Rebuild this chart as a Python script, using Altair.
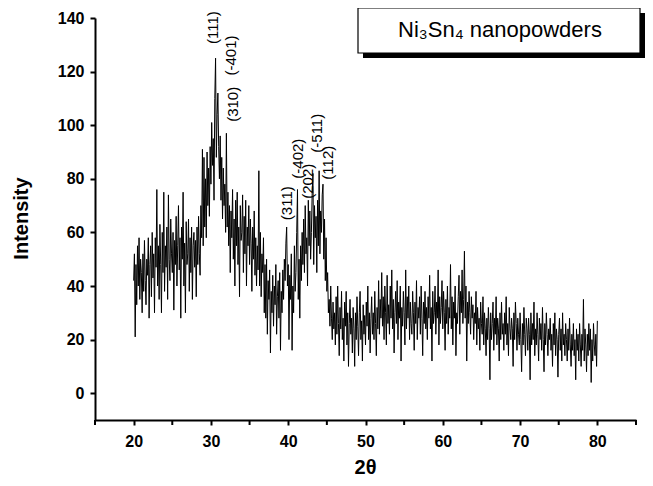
import altair as alt
import pandas as pd

# Intensity, one value every 0.1 deg of 2-theta, from 20.0 to 80.0
intensity = [
    42, 52, 21, 48, 33, 55, 40, 58, 35, 50,
    45, 30, 52, 38, 57, 42, 33, 50, 44, 58,
    28, 48, 55, 36, 60, 43, 52, 30, 58, 47,
    76, 40, 55, 35, 63, 48, 30, 60, 45, 75,
    38, 55, 47, 62, 35, 74, 50, 42, 65, 52,
    45, 60, 31, 57, 48, 66, 40, 55, 70, 46,
    58, 28, 62, 50, 75, 40, 56, 30, 64, 48,
    52, 65, 38, 58, 45, 62, 35, 55, 60, 47,
    57, 36, 62, 48, 66, 52, 44, 70, 58, 91,
    55, 88, 62, 80, 58, 90, 70, 84, 66, 92,
    78, 101, 85, 95, 72, 110, 125, 88, 104, 112,
    92, 80, 96, 72, 88, 65, 84, 70, 78, 60,
    97, 62, 75, 55, 70, 45, 68, 58, 76, 50,
    65, 40, 72, 55, 75, 48, 62, 36, 70, 57,
    60, 74, 45, 66, 52, 72, 40, 62, 55, 70,
    48, 65, 56, 38, 62, 50, 68, 44, 58, 40,
    55, 46, 83, 40, 60, 36, 52, 45, 58, 30,
    48, 28, 50, 22, 42, 35, 46, 15, 38, 30,
    44, 25, 40, 33, 48, 22, 36, 42, 28, 45,
    16, 38, 30, 46, 35, 50, 42, 56, 62, 40,
    48, 20, 44, 35, 52, 16, 40, 30, 55, 38,
    45, 60, 76, 35, 50, 28, 55, 42, 60, 48,
    65, 45, 70, 52, 58, 40, 72, 55, 68, 50,
    60, 75, 82, 48, 70, 58, 66, 45, 72, 55,
    83, 52, 68, 60, 74, 78, 50, 65, 42, 58,
    38, 45, 30, 35, 25, 40, 28, 20, 34, 24,
    30, 18, 36, 22, 40, 26, 14, 32, 24, 38,
    20, 28, 12, 34, 25, 38, 18, 30, 10, 26,
    35, 22, 28, 15, 32, 24, 10, 30, 20, 36,
    25, 14, 30, 38, 20, 27, 12, 33, 22, 29,
    18, 34, 25, 40, 20, 30, 15, 28, 36, 22,
    30, 20, 38, 26, 14, 32, 24, 42, 22, 35,
    28, 45, 25, 36, 20, 40, 30, 18, 44, 26,
    33, 22, 40, 28, 46, 24, 35, 15, 30, 38,
    26, 42, 20, 34, 28, 40, 12, 32, 25, 38,
    30, 18, 46, 24, 36, 28, 40, 20, 34, 26,
    22, 38, 30, 16, 34, 26, 42, 20, 32, 28,
    36, 22, 40, 28, 14, 34, 26, 38, 24, 32,
    20, 36, 28, 44, 24, 32, 12, 38, 26, 30,
    40, 22, 34, 28, 46, 18, 36, 26, 32, 42,
    24, 38, 30, 16, 35, 26, 40, 22, 32, 28,
    48, 24, 36, 18, 34, 28, 40, 14, 30, 26,
    36, 44, 22, 38, 30, 46, 26, 35, 53, 28,
    40, 12, 34, 26, 38, 30, 22, 36, 28, 33,
    20, 30, 26, 38, 18, 32, 24, 28, 16, 34,
    26, 22, 36, 18, 30, 24, 14, 28, 20, 32,
    24, 5, 30, 20, 26, 34, 16, 28, 22, 36,
    18, 28, 24, 12, 30, 20, 34, 22, 26, 16,
    30, 22, 36, 18, 26, 14, 32, 24, 20, 28,
    24, 10, 30, 20, 34, 26, 16, 28, 22, 18,
    30, 20, 8, 26, 18, 32, 22, 14, 28, 24,
    16, 28, 22, 5, 30, 18, 26, 20, 34, 14,
    24, 18, 30, 22, 12, 28, 20, 26, 16, 32,
    20, 8, 26, 18, 30, 22, 14, 24, 20, 28,
    16, 22, 10, 26, 18, 30, 14, 24, 20, 6,
    22, 28, 16, 24, 12, 30, 18, 22, 14, 26,
    20, 12, 24, 16, 28, 18, 10, 22, 16, 26,
    14, 20, 5, 24, 16, 22, 12, 26, 18, 10,
    22, 16, 35, 12, 24, 18, 8, 22, 14, 26,
    16, 24, 4, 20, 12, 26, 18, 14, 22, 10,
    27,
]
start_2theta = 20.0
step_2theta = 0.1
two_theta = [round(start_2theta + step_2theta * i, 2) for i in range(len(intensity))]

# Peak annotations (Miller indices) with their place in data units
peak_labels = ["(111)", "(-401)", "(310)", "(311)", "(-402)", "(202)", "(-511)", "(112)"]
peak_x = [30.27, 32.6, 32.85, 39.84, 41.26, 42.55, 43.7, 45.2]
peak_y = [136.4, 126.0, 107.8, 70.9, 87.5, 79.1, 97.0, 86.0]

x_major = [20, 30, 40, 50, 60, 70, 80]
x_minor = [15, 25, 35, 45, 55, 65, 75, 85]
y_ticks = [0, 10, 20, 30, 40, 50, 60, 70, 80, 90, 100, 110, 120, 130, 140]

legend_text = "Ni\u2083Sn\u2084 nanopowders"

FONT = "Liberation Sans"
W, H = 541, 402

df = pd.DataFrame({"tt": two_theta, "I": intensity})
peaks = pd.DataFrame({"label": peak_labels, "tt": peak_x, "I": peak_y})
minor_df = pd.DataFrame({"m": x_minor})

xscale = alt.Scale(domain=[15, 85], nice=False, zero=False)
yscale = alt.Scale(domain=[-10, 140], nice=False, zero=False)

line = alt.Chart(df).mark_line(color="black", strokeWidth=1.0).encode(
    x=alt.X(
        "tt:Q",
        scale=xscale,
        axis=alt.Axis(
            title="2\u03b8",
            values=x_major,
            format="d",
            labelOverlap=False,
            titleX=270,
            titleY=47,
            titleBaseline="middle",
            titleAlign="center",
        ),
    ),
    y=alt.Y(
        "I:Q",
        scale=yscale,
        axis=alt.Axis(
            title="Intensity",
            values=y_ticks,
            labelExpr="datum.value % 20 == 0 ? datum.label : ''",
            labelOverlap=False,
            titleX=-74,
            titleY=200,
            titleAngle=270,
            titleBaseline="middle",
            titleAlign="center",
        ),
    ),
)

minor_ticks = alt.Chart(minor_df).mark_rule(color="black", strokeWidth=2).encode(
    x=alt.X("m:Q", scale=xscale), y=alt.value(H), y2=alt.value(H + 5)
)

labels = alt.Chart(peaks).mark_text(
    angle=270, align="center", baseline="middle", font=FONT, fontSize=15, color="black"
).encode(x=alt.X("tt:Q", scale=xscale), y=alt.Y("I:Q", scale=yscale), text="label:N")

box_df = pd.DataFrame({"t": [legend_text]})
shadow = alt.Chart(box_df).mark_rect(color="black").encode(
    x=alt.value(268), x2=alt.value(550), y=alt.value(-5), y2=alt.value(40)
)
box = alt.Chart(box_df).mark_rect(fill="white", stroke="black", strokeWidth=1.2).encode(
    x=alt.value(263), x2=alt.value(545), y=alt.value(-10), y2=alt.value(35)
)
box_text = alt.Chart(box_df).mark_text(
    font=FONT, fontSize=22, align="center", baseline="middle", color="black"
).encode(x=alt.value(405), y=alt.value(12), text="t:N")

chart = (
    alt.layer(line, minor_ticks, labels, shadow, box, box_text)
    .properties(
        width=W,
        height=H,
        autosize=alt.AutoSizeParams(type="none"),
        padding={"left": 87, "top": 10, "right": 9, "bottom": 58},
    )
    .configure_view(stroke=None)
    .configure_axis(
        grid=False,
        domainColor="black",
        domainWidth=2,
        tickColor="black",
        tickWidth=2,
        tickSize=5,
        labelFont=FONT,
        labelFontSize=16,
        labelFontWeight="bold",
        labelColor="black",
        labelPadding=6,
        titleFont=FONT,
        titleFontSize=20,
        titleFontWeight="bold",
        titleColor="black",
    )
    .configure_axisX(labelPadding=8)
)

chart.save("out.html", embed_options={"renderer": "svg", "actions": False})
